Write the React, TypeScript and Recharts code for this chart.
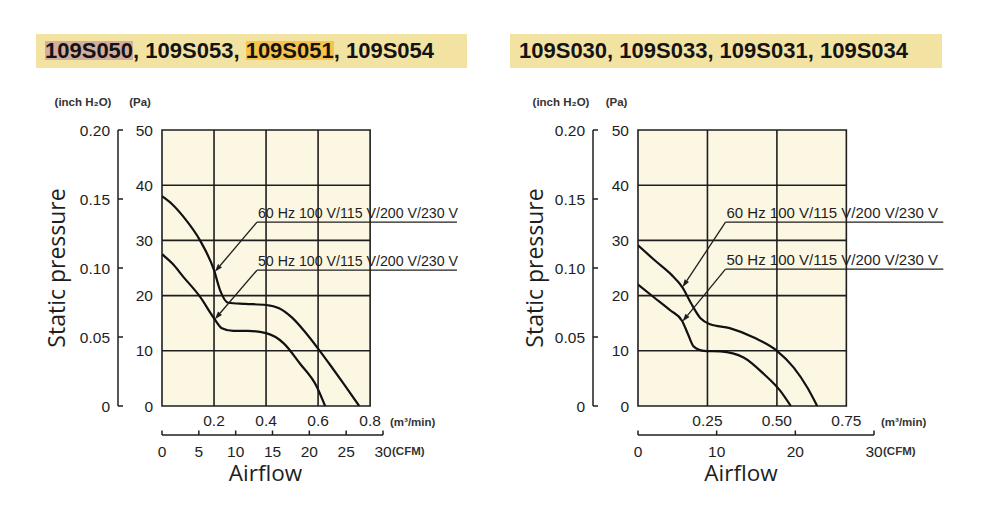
import {
  ComposedChart,
  Line,
  XAxis,
  YAxis,
  ReferenceArea,
  ReferenceLine,
  Label,
} from 'recharts';

const INK = '#1e1e1e';
const PLOT_BG = '#fcf7e3';
const HEAD_BG = '#f3e3a3';
const FONT = '"Liberation Sans", Arial, sans-serif';
const WORD_FONT = '"Open Sans", "Noto Sans", sans-serif';

// 1 CFM in m³/min
const CFM = 0.0283168;

const paTicks = [0, 10, 20, 30, 40, 50];
const inchTicks = [0, 0.05, 0.1, 0.15, 0.2];
const noteText60 = '60 Hz 100 V/115 V/200 V/230 V';
const noteText50 = '50 Hz 100 V/115 V/200 V/230 V';

// 109S050 group
const leftTitle = [
  { text: '109S050', mark: '#d3ae9e' },
  { text: ', 109S053, ', mark: '' },
  { text: '109S051', mark: '#f7c34b' },
  { text: ', 109S054', mark: '' },
];
const left60 = [
  { x: 0, y: 38 },
  { x: 0.04, y: 36.5 },
  { x: 0.082, y: 34.3 },
  { x: 0.146, y: 30 },
  { x: 0.2, y: 24.6 },
  { x: 0.223, y: 21 },
  { x: 0.255, y: 18.7 },
  { x: 0.32, y: 18.5 },
  { x: 0.4, y: 18.3 },
  { x: 0.45, y: 17.7 },
  { x: 0.5, y: 16 },
  { x: 0.55, y: 13.4 },
  { x: 0.6, y: 10.4 },
  { x: 0.65, y: 7.2 },
  { x: 0.7, y: 3.9 },
  { x: 0.758, y: 0 },
];
const left50 = [
  { x: 0, y: 27.5 },
  { x: 0.04, y: 25.8 },
  { x: 0.082, y: 23.4 },
  { x: 0.146, y: 19.8 },
  { x: 0.2, y: 15.9 },
  { x: 0.23, y: 14.1 },
  { x: 0.275, y: 13.6 },
  { x: 0.33, y: 13.6 },
  { x: 0.4, y: 13.2 },
  { x: 0.467, y: 11.4 },
  { x: 0.53, y: 7.7 },
  { x: 0.595, y: 3.5 },
  { x: 0.627, y: 0 },
];
const leftM3Ticks = [0.2, 0.4, 0.6, 0.8];
const leftCfmTicks = [0, 5, 10, 15, 20, 25, 30];
const leftNotes = [
  { text: noteText60, at: { x: 0.365, y: 33.3 }, tip: { x: 0.203, y: 24.3 }, end: 1.134 },
  { text: noteText50, at: { x: 0.365, y: 24.6 }, tip: { x: 0.203, y: 15.7 }, end: 1.134 },
];

// 109S030 group
const rightTitle = [{ text: '109S030, 109S033, 109S031, 109S034', mark: '' }];
const right60 = [
  { x: 0, y: 29.1 },
  { x: 0.06, y: 26.4 },
  { x: 0.12, y: 23.8 },
  { x: 0.16, y: 21.5 },
  { x: 0.19, y: 18.7 },
  { x: 0.225, y: 15.9 },
  { x: 0.26, y: 14.8 },
  { x: 0.33, y: 14.1 },
  { x: 0.417, y: 12.4 },
  { x: 0.5, y: 10 },
  { x: 0.56, y: 7 },
  { x: 0.61, y: 3.3 },
  { x: 0.645, y: 0 },
];
const right50 = [
  { x: 0, y: 22 },
  { x: 0.057, y: 19.7 },
  { x: 0.117, y: 17.3 },
  { x: 0.159, y: 15.4 },
  { x: 0.18, y: 13 },
  { x: 0.2, y: 10.8 },
  { x: 0.237, y: 10 },
  { x: 0.297, y: 9.9 },
  { x: 0.38, y: 8.8 },
  { x: 0.453, y: 5.8 },
  { x: 0.513, y: 2.7 },
  { x: 0.55, y: 0 },
];
const rightM3Ticks = [0.25, 0.5, 0.75];
const rightCfmTicks = [0, 10, 20, 30];
const rightNotes = [
  { text: noteText60, at: { x: 0.315, y: 33.3 }, tip: { x: 0.16, y: 21.5 }, end: 1.099 },
  { text: noteText50, at: { x: 0.315, y: 24.8 }, tip: { x: 0.16, y: 15.3 }, end: 1.099 },
];

type Pt = { x: number; y: number };
type Note = { text: string; at: Pt; tip: Pt; end: number };

const PaTick = ({ x, y, payload }: any) => (
  <text x={x} y={y + 5.5} textAnchor="end" fontSize={15.5} fill={INK} fontFamily={FONT}>
    {payload.value}
  </text>
);

const InchTick = ({ x, y, payload }: any) => (
  <g>
    <line x1={x} y1={y} x2={x + 5} y2={y} stroke={INK} strokeWidth={1.5} />
    <text x={x - 8} y={y + 5.5} textAnchor="end" fontSize={15.5} fill={INK} fontFamily={FONT}>
      {payload.value === 0 ? '0' : Number(payload.value).toFixed(2)}
    </text>
  </g>
);

const makeM3Tick = (digits: number) => ({ x, y, payload }: any) => (
  <text x={x} y={y + 20} textAnchor="middle" fontSize={15.5} fill={INK} fontFamily={FONT}>
    {Number(payload.value).toFixed(digits)}
  </text>
);

// CFM ticks sit on the same airflow scale, labelled in CFM
const CfmTick = ({ x, y, payload }: any) => (
  <g>
    <line x1={x} y1={y} x2={x} y2={y - 4.5} stroke={INK} strokeWidth={1.5} />
    <text x={x} y={y + 21.5} textAnchor="middle" fontSize={15.5} fill={INK} fontFamily={FONT}>
      {Math.round(Number(payload.value) / CFM)}
    </text>
  </g>
);

const makeUnderline = (text: string, size: number) => (p: any) => (
  <g>
    <line x1={p.x1} y1={p.y1} x2={p.x2} y2={p.y2} stroke={INK} strokeWidth={1.3} />
    <text x={p.x1 + 1} y={p.y1 - 4} fontSize={size} fill={INK} fontFamily={FONT}>
      {text}
    </text>
  </g>
);

const Leader = (p: any) => {
  const ang = Math.atan2(p.y2 - p.y1, p.x2 - p.x1);
  const bx = p.x2 - 8 * Math.cos(ang);
  const by = p.y2 - 8 * Math.sin(ang);
  const ox = -Math.sin(ang) * 2.6;
  const oy = Math.cos(ang) * 2.6;
  return (
    <g>
      <line x1={p.x1} y1={p.y1} x2={bx} y2={by} stroke={INK} strokeWidth={1.3} />
      <polygon points={`${p.x2},${p.y2} ${bx + ox},${by + oy} ${bx - ox},${by - oy}`} fill={INK} />
    </g>
  );
};

interface PanelProps {
  left: number;
  title: { text: string; mark: string }[];
  headLeft: number;
  headWidth: number;
  curves: Pt[][];
  m3Ticks: number[];
  m3Digits: number;
  cfmTicks: number[];
  notes: Note[];
  noteSize: number;
  gridMax: number;
  margin: { top: number; right: number; bottom: number; left: number };
  paWidth: number;
  shift: { inch: number; word: number; pa: number; air: number };
}

function Panel(props: PanelProps) {
  const { left, title, curves, m3Ticks, cfmTicks, notes, gridMax, margin, shift } = props;
  const unit = { fontSize: 11.5, fontWeight: 'bold', fill: '#333', fontFamily: FONT };
  const xMax = 30 * CFM;
  return (
    <>
      <div
        style={{
          position: 'absolute',
          left: props.headLeft,
          top: 34,
          width: props.headWidth,
          height: 34,
          background: HEAD_BG,
          boxSizing: 'border-box',
          paddingLeft: 9,
          font: `bold 22px ${FONT}`,
          lineHeight: '34px',
          color: '#141414',
          whiteSpace: 'nowrap',
        }}
      >
        {title.map((t, i) => (
          <span
            key={i}
            style={t.mark ? { background: t.mark, display: 'inline-block', lineHeight: '19px' } : undefined}
          >
            {t.text}
          </span>
        ))}
      </div>
      <div style={{ position: 'absolute', left, top: 0, width: 500, height: 511 }}>
        <ComposedChart width={500} height={511} margin={margin}>
          {/* outer bottom axis: CFM */}
          <XAxis
            xAxisId="b-cfm"
            type="number"
            dataKey="x"
            domain={[0, xMax]}
            allowDataOverflow
            ticks={cfmTicks.map((v) => v * CFM)}
            interval={0}
            axisLine={{ stroke: INK, strokeWidth: 1.5 }}
            tickLine={false}
            tickSize={0}
            tickMargin={0}
            height={50}
            tick={CfmTick}
          >
            <Label value="(CFM)" position="right" offset={9} dy={-9} {...unit} />
            <Label
              value="Airflow"
              position="center"
              dx={shift.air}
              dy={13.5}
              fontSize={22.5}
              fill={INK}
              fontFamily={WORD_FONT}
            />
          </XAxis>
          {/* inner bottom axis: m³/min */}
          <XAxis
            xAxisId="a-m3"
            type="number"
            dataKey="x"
            domain={[0, xMax]}
            allowDataOverflow
            ticks={m3Ticks}
            interval={0}
            axisLine={false}
            tickLine={false}
            tickSize={0}
            tickMargin={0}
            height={29}
            tick={makeM3Tick(props.m3Digits)}
          >
            <Label value="(m³/min)" position="right" offset={7} dy={1} {...unit} />
          </XAxis>
          <YAxis
            yAxisId="b-inch"
            type="number"
            domain={[0, 0.2]}
            allowDataOverflow
            ticks={inchTicks}
            interval={0}
            width={88}
            axisLine={{ stroke: INK, strokeWidth: 1.5 }}
            tickLine={false}
            tickSize={0}
            tickMargin={0}
            tick={InchTick}
          >
            <Label value="(inch H₂O)" position="top" offset={24} dx={shift.inch} {...unit} />
            <Label
              value="Static pressure"
              angle={-90}
              position="center"
              dx={shift.word}
              fontSize={23}
              fill={INK}
              fontFamily={WORD_FONT}
            />
          </YAxis>
          <YAxis
            yAxisId="a-pa"
            type="number"
            domain={[0, 50]}
            allowDataOverflow
            ticks={paTicks}
            interval={0}
            width={props.paWidth}
            axisLine={false}
            tickLine={false}
            tickSize={0}
            tickMargin={9}
            tick={PaTick}
          >
            <Label value="(Pa)" position="top" offset={24} dx={shift.pa} {...unit} />
          </YAxis>
          <ReferenceArea
            xAxisId="a-m3"
            yAxisId="a-pa"
            x1={0}
            x2={gridMax}
            y1={0}
            y2={50}
            fill={PLOT_BG}
            fillOpacity={1}
            stroke={INK}
            strokeWidth={1.6}
          />
          {paTicks.slice(1, -1).map((v) => (
            <ReferenceLine
              key={`h${v}`}
              xAxisId="a-m3"
              yAxisId="a-pa"
              segment={[
                { x: 0, y: v },
                { x: gridMax, y: v },
              ]}
              stroke={INK}
              strokeWidth={1.6}
            />
          ))}
          {m3Ticks
            .filter((v) => v < gridMax)
            .map((v) => (
              <ReferenceLine key={`v${v}`} xAxisId="a-m3" yAxisId="a-pa" x={v} stroke={INK} strokeWidth={1.6} />
            ))}
          {curves.map((c, i) => (
            <Line
              key={i}
              xAxisId="a-m3"
              yAxisId="a-pa"
              data={c}
              dataKey="y"
              type="monotone"
              stroke="#111"
              strokeWidth={2.2}
              dot={false}
              isAnimationActive={false}
            />
          ))}
          {notes.map((n, i) => (
            <ReferenceLine
              key={`u${i}`}
              xAxisId="a-m3"
              yAxisId="a-pa"
              ifOverflow="visible"
              segment={[n.at, { x: n.end, y: n.at.y }]}
              shape={makeUnderline(n.text, props.noteSize)}
            />
          ))}
          {notes.map((n, i) => (
            <ReferenceLine
              key={`l${i}`}
              xAxisId="a-m3"
              yAxisId="a-pa"
              ifOverflow="visible"
              segment={[n.at, n.tip]}
              shape={Leader}
            />
          ))}
        </ComposedChart>
      </div>
    </>
  );
}

export default function App() {
  return (
    <div style={{ position: 'absolute', left: 0, top: 0, width: 1000, height: 511, background: '#fff' }}>
      <Panel
        left={0}
        title={leftTitle}
        headLeft={36}
        headWidth={431}
        curves={[left60, left50]}
        m3Ticks={leftM3Ticks}
        m3Digits={1}
        cfmTicks={leftCfmTicks}
        notes={leftNotes}
        noteSize={14.2}
        gridMax={0.8}
        margin={{ top: 130, right: 117, bottom: 26, left: 30 }}
        paWidth={44}
        shift={{ inch: 9, word: -17, pa: 0, air: -7 }}
      />
      <Panel
        left={500}
        title={rightTitle}
        headLeft={510}
        headWidth={432}
        curves={[right60, right50]}
        m3Ticks={rightM3Ticks}
        m3Digits={2}
        cfmTicks={rightCfmTicks}
        notes={rightNotes}
        noteSize={15}
        gridMax={0.75}
        margin={{ top: 130, right: 126, bottom: 26, left: 5 }}
        paWidth={45}
        shift={{ inch: 12, word: -14, pa: 1, air: -15 }}
      />
    </div>
  );
}
